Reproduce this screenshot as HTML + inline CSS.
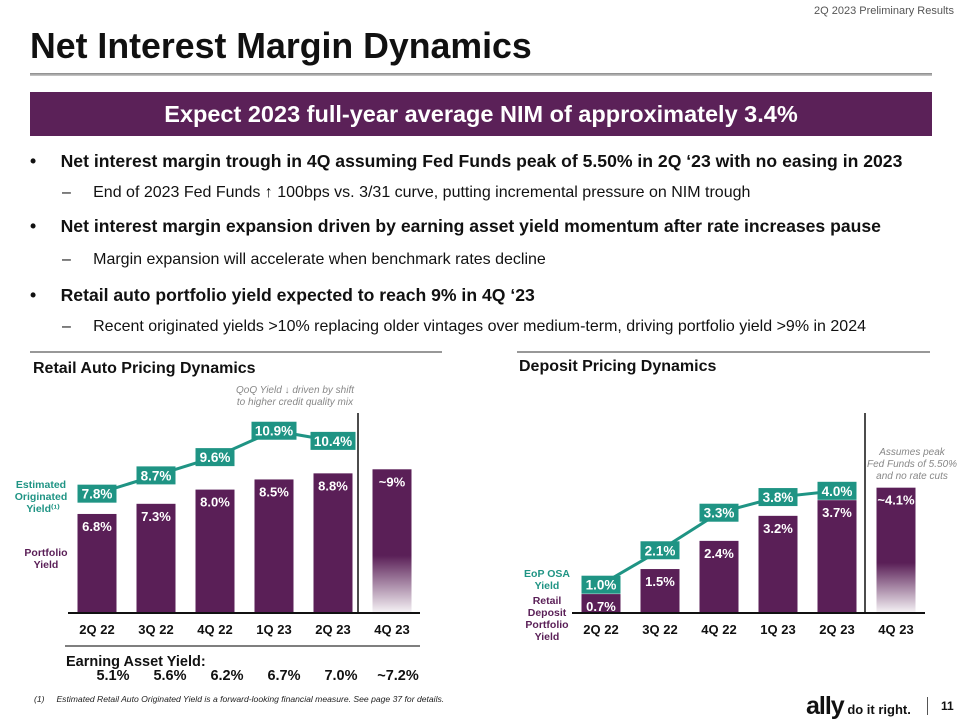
<!DOCTYPE html>
<html><head><meta charset="utf-8">
<style>
body{margin:0;width:960px;height:720px;background:#fff;font-family:"Liberation Sans",sans-serif;overflow:hidden;position:relative}
.abs{position:absolute;white-space:nowrap}
.b{font-weight:bold;font-size:17.6px;color:#111}
.s{font-size:16px;color:#111}
</style></head><body>
<div class="abs" style="right:6px;top:5px;font-size:11px;color:#555">2Q 2023 Preliminary Results</div>
<div class="abs" style="left:30px;top:26px;font-size:35.7px;font-weight:bold;color:#111">Net Interest Margin Dynamics</div>
<div class="abs" style="left:30px;top:73px;width:902px;height:3px;background:linear-gradient(#888,#ccc)"></div>
<div class="abs" style="left:30px;top:92px;width:902px;height:44px;background:#5b2158;color:#fff;font-size:23.5px;font-weight:bold;text-align:center;line-height:44px">Expect 2023 full-year average NIM of approximately 3.4%</div>
<div class="abs b" style="left:30px;top:151px">•&nbsp;&nbsp;&nbsp;&nbsp;&nbsp;Net interest margin trough in 4Q assuming Fed Funds peak of 5.50% in 2Q ‘23 with no easing in 2023</div>
<div class="abs s" style="left:62px;top:184px">–&nbsp;&nbsp;&nbsp;&nbsp;&nbsp;End of 2023 Fed Funds ↑ 100bps vs. 3/31 curve, putting incremental pressure on NIM trough</div>
<div class="abs b" style="left:30px;top:216px">•&nbsp;&nbsp;&nbsp;&nbsp;&nbsp;Net interest margin expansion driven by earning asset yield momentum after rate increases pause</div>
<div class="abs s" style="left:62px;top:251px">–&nbsp;&nbsp;&nbsp;&nbsp;&nbsp;Margin expansion will accelerate when benchmark rates decline</div>
<div class="abs b" style="left:30px;top:285px">•&nbsp;&nbsp;&nbsp;&nbsp;&nbsp;Retail auto portfolio yield expected to reach 9% in 4Q ‘23</div>
<div class="abs s" style="left:62px;top:318px">–&nbsp;&nbsp;&nbsp;&nbsp;&nbsp;Recent originated yields &gt;10% replacing older vintages over medium-term, driving portfolio yield &gt;9% in 2024</div>

<svg id="c" width="960" height="720" style="position:absolute;left:0;top:0" font-family="Liberation Sans, sans-serif">
<defs><linearGradient id="fade" x1="0" y1="0" x2="0" y2="1"><stop offset="0.6" stop-color="#5a1f57"/><stop offset="1" stop-color="#5a1f57" stop-opacity="0.05"/></linearGradient></defs>
</svg>

<div class="abs" style="left:66px;top:654px;font-size:14.5px;font-weight:bold;color:#111">Earning Asset Yield:</div>
<div class="abs" style="left:34px;top:694px;font-size:8.6px;font-style:italic;color:#222">(1)&nbsp;&nbsp;&nbsp;&nbsp;&nbsp;Estimated Retail Auto Originated Yield is a forward-looking financial measure. See page 37 for details.</div>
<div class="abs" style="left:806px;top:692px;font-size:25px;font-weight:bold;color:#111;letter-spacing:-1px">ally<span style="font-size:13px;letter-spacing:0"> do it right.</span></div>
<div class="abs" style="left:927px;top:697px;width:1px;height:18px;background:#555"></div>
<div class="abs" style="left:941px;top:699px;font-size:12px;font-weight:bold;color:#111">11</div>

<script>
const cats=["2Q 22","3Q 22","4Q 22","1Q 23","2Q 23","4Q 23"];
const autoPortfolio=[6.8,7.3,8.0,8.5,8.8,9.0];
const autoPortfolioLabels=["6.8%","7.3%","8.0%","8.5%","8.8%","~9%"];
const autoOriginated=[7.8,8.7,9.6,10.9,10.4];
const autoOriginatedLabels=["7.8%","8.7%","9.6%","10.9%","10.4%"];
const depPortfolio=[0.7,1.5,2.4,3.2,3.7,4.1];
const depPortfolioLabels=["0.7%","1.5%","2.4%","3.2%","3.7%","~4.1%"];
const depOSA=[1.0,2.1,3.3,3.8,4.0];
const depOSALabels=["1.0%","2.1%","3.3%","3.8%","4.0%"];
const eay=["5.1%","5.6%","6.2%","6.7%","7.0%","~7.2%"];

const svg=document.getElementById('c');const NS="http://www.w3.org/2000/svg";
function mk(t,a,txt){const e=document.createElementNS(NS,t);for(const k in a)e.setAttribute(k,a[k]);if(txt!=null)e.textContent=txt;svg.appendChild(e);return e;}
const PURPLE="#5a1f57",TEAL="#1f9484";

function chart(o){
  const xc=i=>o.x0+i*59, y=v=>o.a-o.b*v, bw=39, base=613;
  let r=mk('line',{x1:o.rule[0],x2:o.rule[1],y1:352,y2:352,stroke:'#777','stroke-width':1.5});
  
  let t=mk('text',{x:o.tx,y:o.ty,'font-size':16,'font-weight':'bold',fill:'#111'},o.title);
  
  o.bars.forEach((v,i)=>{
    const yy=y(v);
    const b=mk('rect',{x:xc(i)-bw/2,y:yy,width:bw,height:base-yy,fill:i==5?'url(#fade)':PURPLE});
    
    
    const l=mk('text',{x:xc(i),y:yy+17,'text-anchor':'middle','font-size':13,'font-weight':'bold',fill:'#fff'},o.barLabels[i]);
    
    const c=mk('text',{x:xc(i),y:634,'text-anchor':'middle','font-size':13,'font-weight':'bold',fill:'#111'},cats[i]);
    
  });
  const pts=o.line.map((v,i)=>xc(i)+','+y(v)).join(' ');
  const pl=mk('polyline',{points:pts,fill:'none',stroke:TEAL,'stroke-width':3});
  
  o.line.forEach((v,i)=>{
    const wide=o.lineLabels[i].length>4?3:0;
    const bx=mk('rect',{x:xc(i)-bw/2-wide,y:y(v)-9,width:bw+2*wide,height:18,fill:TEAL});
    
    const l=mk('text',{x:xc(i),y:y(v)+5,'text-anchor':'middle','font-size':13.5,'font-weight':'bold',fill:'#fff'},o.lineLabels[i]);
    
  });
  const ax=mk('line',{x1:o.ax[0],x2:o.ax[1],y1:base,y2:base,stroke:'#111','stroke-width':2});
  
  const dv=mk('line',{x1:o.div,x2:o.div,y1:413,y2:base,stroke:'#111','stroke-width':1.5});
  
}
chart({id:'auto',x0:97,a:652,b:20.3,bars:autoPortfolio,barLabels:autoPortfolioLabels,line:autoOriginated,lineLabels:autoOriginatedLabels,rule:[30,442],tx:33,ty:373,title:'Retail Auto Pricing Dynamics',ax:[68,420],div:358});
chart({id:'deposit',x0:601,a:616,b:31.3,bars:depPortfolio,barLabels:depPortfolioLabels,line:depOSA,lineLabels:depOSALabels,rule:[517,930],tx:519,ty:371,title:'Deposit Pricing Dynamics',ax:[572,925],div:865});

function note(lines,x,y0,fill,anchor,style,size,name,bold){
  lines.forEach((s,i)=>{const t=mk('text',{x:x,y:y0+i*12,'text-anchor':anchor,'font-size':size,fill:fill,'font-style':style,'font-weight':bold?'bold':'normal'},s);
  });
}
note(["QoQ Yield ↓ driven by shift","to higher credit quality mix"],295,393,'#888','middle','italic',10,'auto-annotation');
note(["Assumes peak","Fed Funds of 5.50%","and no rate cuts"],912,455,'#888','middle','italic',10,'deposit-annotation');
note(["Estimated","Originated"],41,488,TEAL,'middle','normal',10.5,'auto-originated-legend',true);
note(["Yield⁽¹⁾"],43,512,TEAL,'middle','normal',10.5,'auto-originated-legend',true);
note(["Portfolio","Yield"],46,556,PURPLE,'middle','normal',10.5,'auto-portfolio-legend',true);
note(["EoP OSA","Yield"],547,577,TEAL,'middle','normal',10.5,'deposit-osa-legend',true);
note(["Retail","Deposit","Portfolio","Yield"],547,604,PURPLE,'middle','normal',10.5,'deposit-portfolio-legend',true);
eay.forEach((s,i)=>{const t=mk('text',{x:113+i*57,y:680,'text-anchor':'middle','font-size':14.5,'font-weight':'bold',fill:'#111'},s);
});
const lr=mk('line',{x1:65,x2:420,y1:646,y2:646,stroke:'#555','stroke-width':1.5});

</script>
</body></html>
